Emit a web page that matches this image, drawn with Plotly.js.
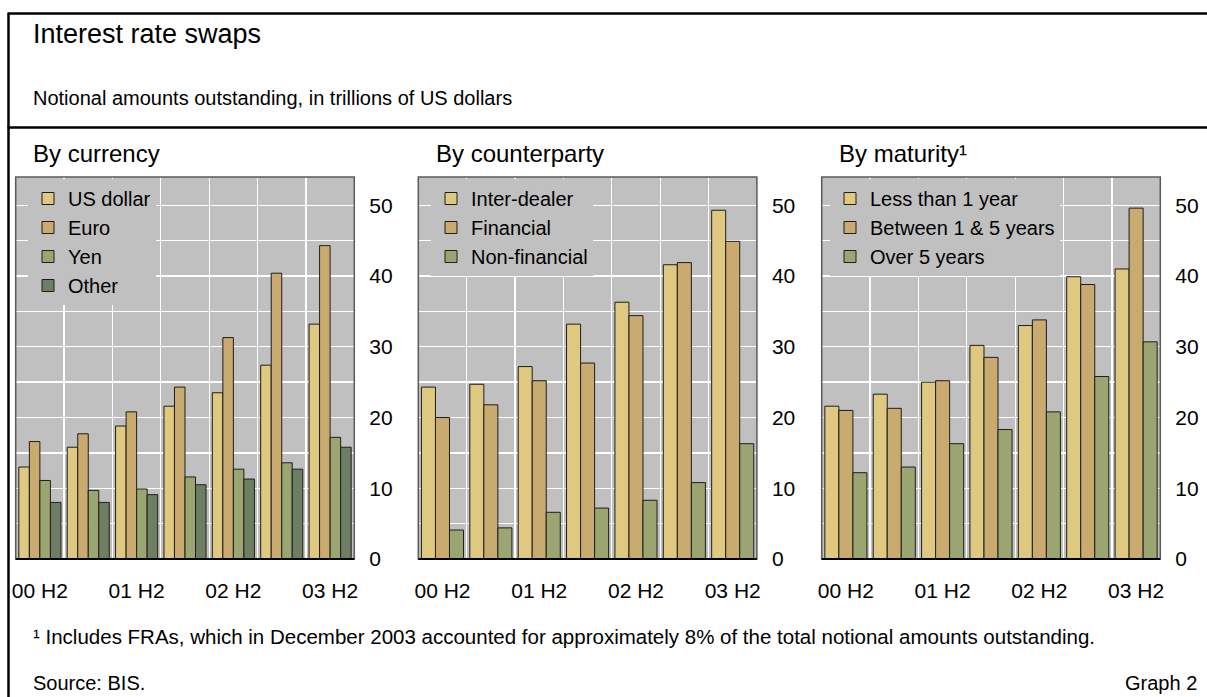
<!DOCTYPE html>
<html>
<head>
<meta charset="utf-8">
<script src="https://cdn.plot.ly/plotly-3.0.1.min.js"></script>
<style>
  html, body { margin: 0; padding: 0; background: #ffffff; }
  #chart { width: 1207px; height: 697px; }
</style>
</head>
<body>
<div id="chart"></div>
<script>
// ---------- data ----------
const categories = ['00 H2', '01 H1', '01 H2', '02 H1', '02 H2', '03 H1', '03 H2'];
const tickLabels = ['00 H2', '01 H2', '02 H2', '03 H2'];
const yTickValues = [0, 10, 20, 30, 40, 50];

// By currency
const currencyNames = ['US dollar', 'Euro', 'Yen', 'Other'];
const usDollar = [13.0, 15.8, 18.8, 21.6, 23.5, 27.4, 33.2];
const euro     = [16.6, 17.7, 20.8, 24.3, 31.3, 40.4, 44.3];
const yen      = [11.1,  9.7,  9.9, 11.6, 12.7, 13.6, 17.2];
const other    = [ 8.0,  8.0,  9.1, 10.5, 11.3, 12.7, 15.8];

// By counterparty
const counterpartyNames = ['Inter-dealer', 'Financial', 'Non-financial'];
const interDealer  = [24.3, 24.7, 27.2, 33.2, 36.3, 41.6, 49.3];
const financial    = [20.0, 21.8, 25.2, 27.7, 34.4, 41.9, 44.9];
const nonFinancial = [ 4.1,  4.4,  6.6,  7.2,  8.3, 10.8, 16.3];

// By maturity
const maturityNames = ['Less than 1 year', 'Between 1 & 5 years', 'Over 5 years'];
const lessThan1Year  = [21.6, 23.3, 25.0, 30.2, 33.0, 39.9, 41.0];
const between1And5   = [21.0, 21.3, 25.2, 28.5, 33.8, 38.8, 49.6];
const over5Years     = [12.2, 13.0, 16.3, 18.3, 20.8, 25.8, 30.7];

// ---------- styling ----------
const FONT = 'Liberation Sans, Arial, Helvetica, sans-serif';
const COL = { light: '#DFC981', tan: '#C9AA6F', olive: '#9BA571', dark: '#6E7E63' };
const W = 1207, H = 697;
const px = v => v / W;
const py = v => 1 - v / H;

const xPos = categories.map((c, i) => i);
const tickPos = tickLabels.map(t => categories.indexOf(t));
const boundaries = categories.slice(1).map((c, i) => i + 0.5);
const minorY = yTickValues.slice(0, -1).map(v => v + 5);

function bar(name, values, color, xa, ya, lg) {
  return {
    type: 'bar', name: name, x: xPos, y: values,
    xaxis: xa, yaxis: ya, legend: lg,
    marker: { color: color, line: { color: '#1e1e1e', width: 1 } },
    hoverinfo: 'skip'
  };
}

const data = [
  bar(currencyNames[0], usDollar, COL.light, 'x', 'y', 'legend'),
  bar(currencyNames[1], euro, COL.tan, 'x', 'y', 'legend'),
  bar(currencyNames[2], yen, COL.olive, 'x', 'y', 'legend'),
  bar(currencyNames[3], other, COL.dark, 'x', 'y', 'legend'),
  bar(counterpartyNames[0], interDealer, COL.light, 'x2', 'y2', 'legend2'),
  bar(counterpartyNames[1], financial, COL.tan, 'x2', 'y2', 'legend2'),
  bar(counterpartyNames[2], nonFinancial, COL.olive, 'x2', 'y2', 'legend2'),
  bar(maturityNames[0], lessThan1Year, COL.light, 'x3', 'y3', 'legend3'),
  bar(maturityNames[1], between1And5, COL.tan, 'x3', 'y3', 'legend3'),
  bar(maturityNames[2], over5Years, COL.olive, 'x3', 'y3', 'legend3')
];

const plotLeft = [15.7, 418.3, 821.7];
const plotWidth = 338.6;
const plotTop = 177, plotBottom = 559;

function xAxis(i) {
  return {
    domain: [px(plotLeft[i]), px(plotLeft[i] + plotWidth)],
    anchor: i === 0 ? 'y' : 'y' + (i + 1),
    range: [-0.5, categories.length - 0.5],
    tickmode: 'array', tickvals: tickPos, ticktext: tickLabels,
    showgrid: false, zeroline: false, showline: false, ticks: '',
    ticklabelstandoff: 17,
    tickfont: { family: FONT, size: 21, color: '#000' },
    minor: { tickmode: 'array', tickvals: boundaries, showgrid: true, gridcolor: '#ffffff', gridwidth: 1.3, ticks: '' },
    fixedrange: true
  };
}
function yAxis(i) {
  return {
    domain: [py(plotBottom), py(plotTop)],
    anchor: i === 0 ? 'x' : 'x' + (i + 1),
    side: 'right',
    range: [0, 54],
    tickmode: 'array', tickvals: yTickValues,
    showgrid: true, gridcolor: '#ffffff', gridwidth: 1.3,
    zeroline: false, showline: false, ticks: '',
    ticklabelstandoff: 14,
    tickfont: { family: FONT, size: 21, color: '#000' },
    minor: { tickmode: 'array', tickvals: minorY, showgrid: true, gridcolor: '#ffffff', gridwidth: 1.3, ticks: '' },
    fixedrange: true
  };
}

function legendAt(xLeft) {
  return {
    x: px(xLeft), y: py(plotTop + 2), xanchor: 'left', yanchor: 'top',
    bgcolor: '#C0C0C0', borderwidth: 0,
    font: { family: FONT, size: 20, color: '#000' },
    traceorder: 'normal', tracegroupgap: 0, itemclick: false, itemdoubleclick: false
  };
}

function ann(text, x, y, size, xanchor) {
  return {
    text: text, xref: 'paper', yref: 'paper', x: x, y: y,
    xanchor: xanchor || 'left', yanchor: 'middle', showarrow: false,
    font: { family: FONT, size: size, color: '#000' }
  };
}

const frameShapes = [
  { type: 'line', xref: 'paper', yref: 'paper', x0: px(7.5), x1: 1, y0: py(13.5), y1: py(13.5), line: { color: '#000', width: 2.5 } },
  { type: 'line', xref: 'paper', yref: 'paper', x0: px(8.5), x1: px(8.5), y0: py(13.5), y1: 0, line: { color: '#000', width: 2.5 } },
  { type: 'line', xref: 'paper', yref: 'paper', x0: px(7.5), x1: 1, y0: py(127.5), y1: py(127.5), line: { color: '#000', width: 2.5 } }
];
const plotFrames = [];
['', '2', '3'].forEach(s => {
  plotFrames.push({ type: 'rect', xref: 'x' + s + ' domain', yref: 'y' + s + ' domain', x0: 0, x1: 1, y0: 0, y1: 1, line: { color: '#5a5a5a', width: 1.5 }, fillcolor: 'rgba(0,0,0,0)' });
  plotFrames.push({ type: 'line', xref: 'x' + s + ' domain', yref: 'y' + s + ' domain', x0: 0, x1: 1, y0: 0, y1: 0, line: { color: '#000', width: 2 } });
});

const layout = {
  width: W, height: H,
  margin: { l: 0, r: 0, t: 0, b: 0, pad: 0 },
  paper_bgcolor: '#ffffff', plot_bgcolor: '#C0C0C0',
  font: { family: FONT, color: '#000' },
  barmode: 'group', bargap: 0.13, bargroupgap: 0,
  hovermode: false,
  showlegend: true,
  xaxis: xAxis(0), xaxis2: xAxis(1), xaxis3: xAxis(2),
  yaxis: yAxis(0), yaxis2: yAxis(1), yaxis3: yAxis(2),
  legend: legendAt(28), legend2: legendAt(431), legend3: legendAt(830),
  shapes: frameShapes.concat(plotFrames),
  annotations: [
    ann('Interest rate swaps', px(31), py(33.5), 27),
    ann('Notional amounts outstanding, in trillions of US dollars', px(31), py(97.5), 20),
    ann('By currency', px(31), py(153.5), 24),
    ann('By counterparty', px(434), py(153.5), 24),
    ann('By maturity¹', px(837), py(153.5), 24),
    ann('¹ Includes FRAs, which in December 2003 accounted for approximately 8% of the total notional amounts outstanding.', px(31), py(636.5), 20.5),
    ann('Source: BIS.', px(31), py(683), 20),
    ann('Graph 2', px(1199), py(683), 20, 'right')
  ]
};

Plotly.newPlot('chart', data, layout, { staticPlot: true, displayModeBar: false });
</script>
</body>
</html>
